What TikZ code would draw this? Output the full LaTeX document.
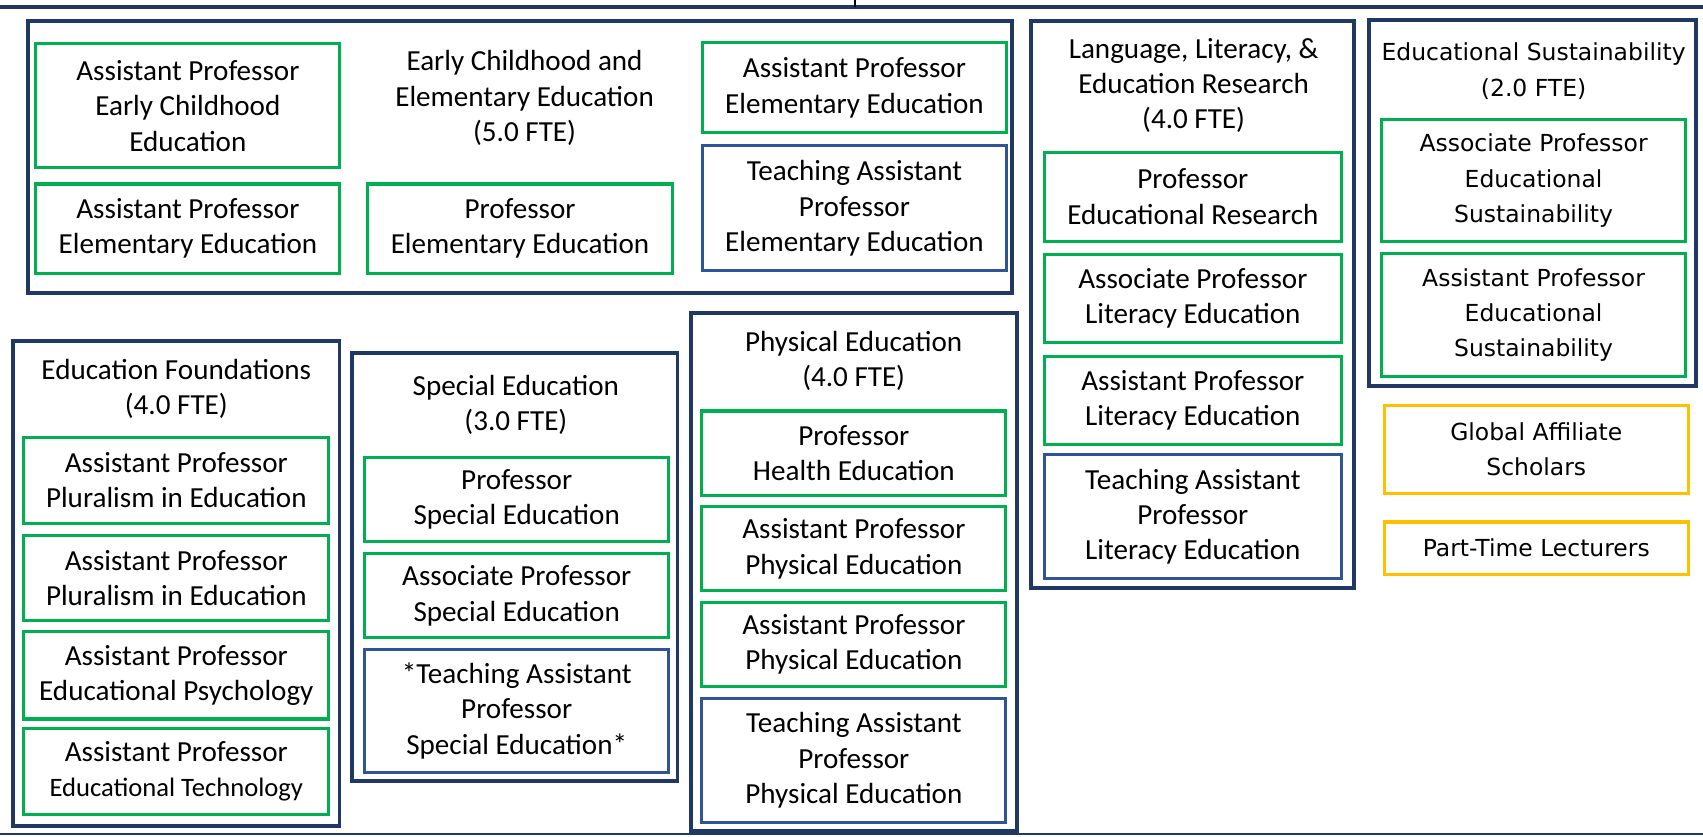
\documentclass[tikz,border=0pt]{standalone}
\usepackage{fontspec}
\setmainfont{Carlito}
\newfontfamily\widefont{DejaVu Sans}
\usetikzlibrary{positioning}

\definecolor{navy}{HTML}{1F3864}
\definecolor{facgreen}{HTML}{00B050}
\definecolor{tapblue}{HTML}{2F5597}
\definecolor{affgold}{HTML}{FFC000}

\begin{document}
\begin{tikzpicture}[
  x=1pt, y=-1pt,
  node distance=8pt,
  font=\fontsize{26.8}{32.6}\selectfont,
  deptbox/.style={
    rectangle, draw=navy, line width=3.6pt,
    inner sep=0pt
  },
  facbox/.style={
    rectangle, draw=facgreen, line width=2.8pt,
    fill=white, inner sep=0pt,
    minimum width=280pt, minimum height=78.2pt,
    align=center
  },
  tapbox/.style={facbox, draw=tapblue, minimum height=113.7pt},
  affbox/.style={facbox, draw=affgold},
  headtext/.style={align=center, inner sep=0pt},
  widetext/.style={font=\widefont\fontsize{21.6}{32.4}\selectfont}
]
\useasboundingbox (0,0) rectangle (1568,770);

% Cut-off lines of the chart
\coordinate (topl) at (0,6.3);
\coordinate (topr) at (1568,6.3);
\coordinate (tickb) at (787,0);
\coordinate (ticke) at (787,6.3);
\coordinate (botl) at (0,768);
\coordinate (botr) at (1568,768);
\draw[navy, line width=4pt] (topl) -- (topr);
\draw[black, line width=1.5pt] (tickb) -- (ticke);
\draw[navy, line width=2pt] (botl) -- (botr);

% Department frames
\node[deptbox, minimum width=905.9pt, minimum height=250.4pt] (ece) at (478.75,144.5) {};
\node[deptbox, minimum width=297.4pt, minimum height=521.9pt] (lle) at (1098,280.25) {};
\node[deptbox, minimum width=300.4pt, minimum height=337pt] (sus) at (1411,187.3) {};
\node[deptbox, minimum width=300.4pt, minimum height=447.2pt] (fnd) at (162.35,537.2) {};
\node[deptbox, minimum width=299.4pt, minimum height=394.3pt] (sped) at (474.1,521.75) {};
\node[deptbox, minimum width=300.6pt, minimum height=476.8pt] (pe) at (786.2,526.8) {};

% Early Childhood and Elementary Education
\node[headtext] (ecehead) at (483,90.5) {Early Childhood and\\Elementary Education\\(5.0 FTE)};
\node[facbox, minimum height=114pt] (eceap) at (173,97.4) {Assistant Professor\\Early Childhood\\Education};
\node[facbox, minimum height=82.2pt] (eceelem) at (173,210.5) {Assistant Professor\\Elementary Education};
\node[facbox, minimum height=82.2pt] (eceprof) at (478.8,210.5) {Professor\\Elementary Education};
\node[facbox, minimum height=82.6pt] (eceelemr) at (786.7,80.7) {Assistant Professor\\Elementary Education};
\node[tapbox, minimum height=114.9pt, below=9.6pt of eceelemr] (ecetap) {Teaching Assistant\\Professor\\Elementary Education};

% Language, Literacy, & Education Research
\node[headtext] (llehead) at (1099,78.8) {Language, Literacy, \&\\Education Research\\(4.0 FTE)};
\node[facbox, minimum width=274pt, minimum height=81.8pt] (lleprof) at (1098.3,181.1) {Professor\\Educational Research};
\node[facbox, minimum width=274pt, minimum height=81.6pt, below=9.2pt of lleprof] (lleassoc) {Associate Professor\\Literacy Education};
\node[facbox, minimum width=274pt, minimum height=81.6pt, below=9.6pt of lleassoc] (lleap) {Assistant Professor\\Literacy Education};
\node[tapbox, minimum width=274pt, minimum height=114.2pt, below=6.3pt of lleap] (lletap) {Teaching Assistant\\Professor\\Literacy Education};

% Educational Sustainability
\node[headtext, widetext] (sushead) at (1412,65.5) {Educational Sustainability\\(2.0 FTE)};
\node[facbox, widetext, minimum height=112.9pt] (susassoc) at (1412,166.25) {Associate Professor\\Educational\\Sustainability};
\node[facbox, widetext, minimum height=113.2pt, below=7.9pt of susassoc] (susap) {Assistant Professor\\Educational\\Sustainability};

% Affiliates and lecturers
\node[affbox, widetext, minimum height=81pt] (global) at (1414.5,413.7) {Global Affiliate\\Scholars};
\node[affbox, widetext, minimum height=48.3pt, below=23.6pt of global] (lect) {Part-Time Lecturers};

% Education Foundations
\node[headtext] (fndhead) at (162.35,358.3) {Education Foundations\\(4.0 FTE)};
\node[facbox, minimum width=281pt, minimum height=78.7pt] (fndplur) at (162.35,442.25) {Assistant Professor\\Pluralism in Education};
\node[facbox, minimum width=281pt, minimum height=78.4pt, below=8.5pt of fndplur] (fndplurb) {Assistant Professor\\Pluralism in Education};
\node[facbox, minimum width=281pt, minimum height=80.3pt, below=7.6pt of fndplurb] (fndpsy) {Assistant Professor\\Educational Psychology};
\node[facbox, minimum width=281pt, minimum height=78.5pt, below=6.3pt of fndpsy] (fndtech) {Assistant Professor\\{\fontsize{24.5}{30}\selectfont Educational Technology}};

% Special Education
\node[headtext] (spedhead) at (475,372.7) {Special Education\\(3.0 FTE)};
\node[facbox, minimum height=78pt] (spedprof) at (475.75,459.9) {Professor\\Special Education};
\node[facbox, minimum height=77.8pt, below=7.9pt of spedprof] (spedassoc) {Associate Professor\\Special Education};
\node[tapbox, below=7.5pt of spedassoc] (spedtap) {*Teaching Assistant\\Professor\\Special Education*};

% Physical Education
\node[headtext] (pehead) at (786,332.5) {Physical Education\\(4.0 FTE)};
\node[facbox, minimum height=77.4pt] (pehealth) at (786.2,417.1) {Professor\\Health Education};
\node[facbox, minimum height=77.6pt, below=7.8pt of pehealth] (peap) {Assistant Professor\\Physical Education};
\node[facbox, minimum height=77.4pt, below=7.9pt of peap] (peapb) {Assistant Professor\\Physical Education};
\node[tapbox, below=8.5pt of peapb] (petap) {Teaching Assistant\\Professor\\Physical Education};

\end{tikzpicture}
\end{document}
